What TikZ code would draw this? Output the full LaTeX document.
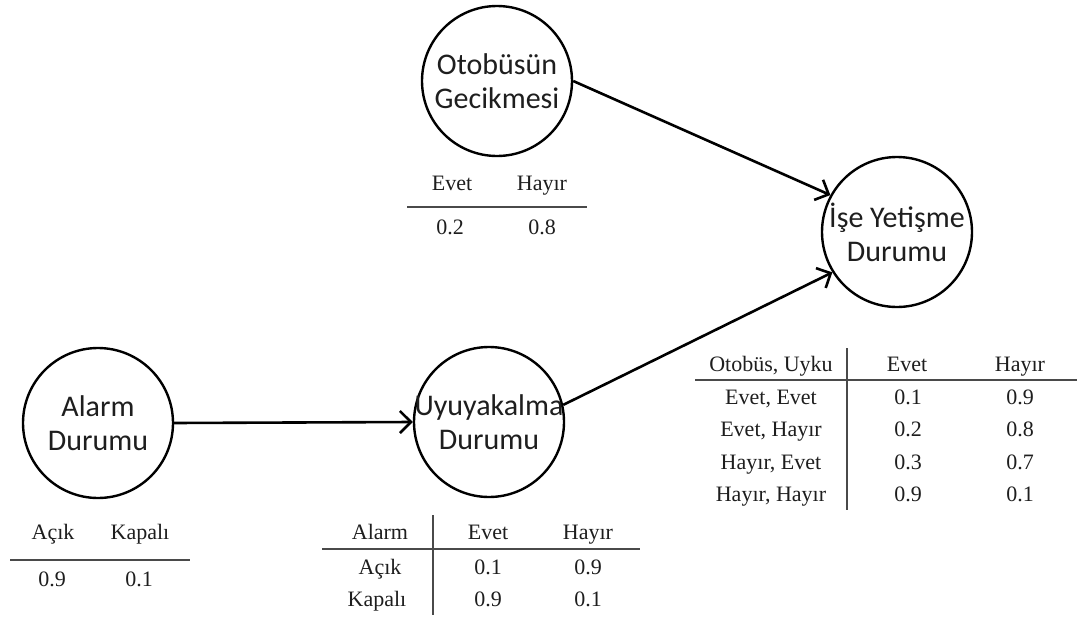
\documentclass[tikz,border=0pt]{standalone}
\usepackage{fontspec}
\setmainfont{Liberation Serif}
\newfontfamily\nodefont{Carlito}
\usetikzlibrary{arrows.meta}
\definecolor{ink}{HTML}{1E1E1E}
\definecolor{rule}{HTML}{4A4A4A}
\tikzset{
  state/.style={circle, draw=black, line width=2.4pt, minimum size=150pt, inner sep=0pt},
  ctext/.style={align=center, text=ink, font=\nodefont\fontsize{30}{34}\selectfont, inner sep=0pt},
  cell/.style={text=ink, font=\fontsize{22}{24}\selectfont, inner sep=0pt, anchor=base},
  rulel/.style={draw=rule, line width=1.6pt},
  link/.style={draw=black, line width=2.6pt, -{Straight Barb[length=11pt,width=22pt,line width=2.6pt]}}
}
\begin{document}
\begin{tikzpicture}[x=1pt,y=-1pt]
\useasboundingbox[fill=white] (0,0) rectangle (1080,621);

% variables
\node[state] (oto) at (497,81) {};
\node[ctext] (otoT) at (oto) {Otobüsün\\Gecikmesi};
\node[state] (alarm) at (98,423) {};
\node[ctext] (alarmT) at (alarm) {Alarm\\Durumu};
\node[state] (uyu) at (489,422) {};
\node[ctext] (uyuT) at (uyu) {Uyuyakalma\\Durumu};
\node[state] (ise) at (897,232) {};
\node[ctext] (iseT) at (ise) {İşe Yetişme\\Durumu};

% dependencies
\draw[link] (oto.east) -- (ise.151);
\draw[link] (alarm.east) -- (uyu.west);
\draw[link] (uyu.13) -- (ise.212);

% prior: Otobüsün Gecikmesi
\node[cell] (o1) at (452,190) {Evet};
\node[cell] (o2) at (542,190) {Hayır};
\node[cell] (o3) at (450,234) {0.2};
\node[cell] (o4) at (542,234) {0.8};
\coordinate (oL) at (407,207);
\coordinate (oR) at (587,207);
\draw[rulel] (oL) -- (oR);

% prior: Alarm Durumu
\node[cell] (a1) at (53,539) {Açık};
\node[cell] (a2) at (140,539) {Kapalı};
\node[cell] (a3) at (52,586) {0.9};
\node[cell] (a4) at (139,586) {0.1};
\coordinate (aL) at (10,560);
\coordinate (aR) at (190,560);
\draw[rulel] (aL) -- (aR);

% conditional: Uyuyakalma Durumu
\node[cell] (u0) at (380,539) {Alarm};
\node[cell] (u1) at (488,539) {Evet};
\node[cell] (u2) at (588,539) {Hayır};
\node[cell] (u3) at (380,574) {Açık};
\node[cell] (u4) at (488,574) {0.1};
\node[cell] (u5) at (588,574) {0.9};
\node[cell] (u6) at (377,606) {Kapalı};
\node[cell] (u7) at (488,606) {0.9};
\node[cell] (u8) at (588,606) {0.1};
\coordinate (uL) at (322,549);
\coordinate (uR) at (640,549);
\coordinate (uT) at (433,515);
\coordinate (uB) at (433,615);
\draw[rulel] (uL) -- (uR);
\draw[rulel] (uT) -- (uB);

% conditional: İşe Yetişme Durumu
\node[cell] (i0) at (771,371) {Otobüs, Uyku};
\node[cell] (i1) at (907,371) {Evet};
\node[cell] (i2) at (1020,371) {Hayır};
\node[cell] (i3) at (771,404) {Evet, Evet};
\node[cell] (i4) at (908,404) {0.1};
\node[cell] (i5) at (1020,404) {0.9};
\node[cell] (i6) at (771,436) {Evet, Hayır};
\node[cell] (i7) at (908,436) {0.2};
\node[cell] (i8) at (1020,436) {0.8};
\node[cell] (i9) at (771,469) {Hayır, Evet};
\node[cell] (i10) at (908,469) {0.3};
\node[cell] (i11) at (1020,469) {0.7};
\node[cell] (i12) at (771,501) {Hayır, Hayır};
\node[cell] (i13) at (908,501) {0.9};
\node[cell] (i14) at (1020,501) {0.1};
\coordinate (iL) at (695,380);
\coordinate (iR) at (1077,380);
\coordinate (iT) at (847,348);
\coordinate (iB) at (847,510);
\draw[rulel] (iL) -- (iR);
\draw[rulel] (iT) -- (iB);
\end{tikzpicture}
\end{document}
